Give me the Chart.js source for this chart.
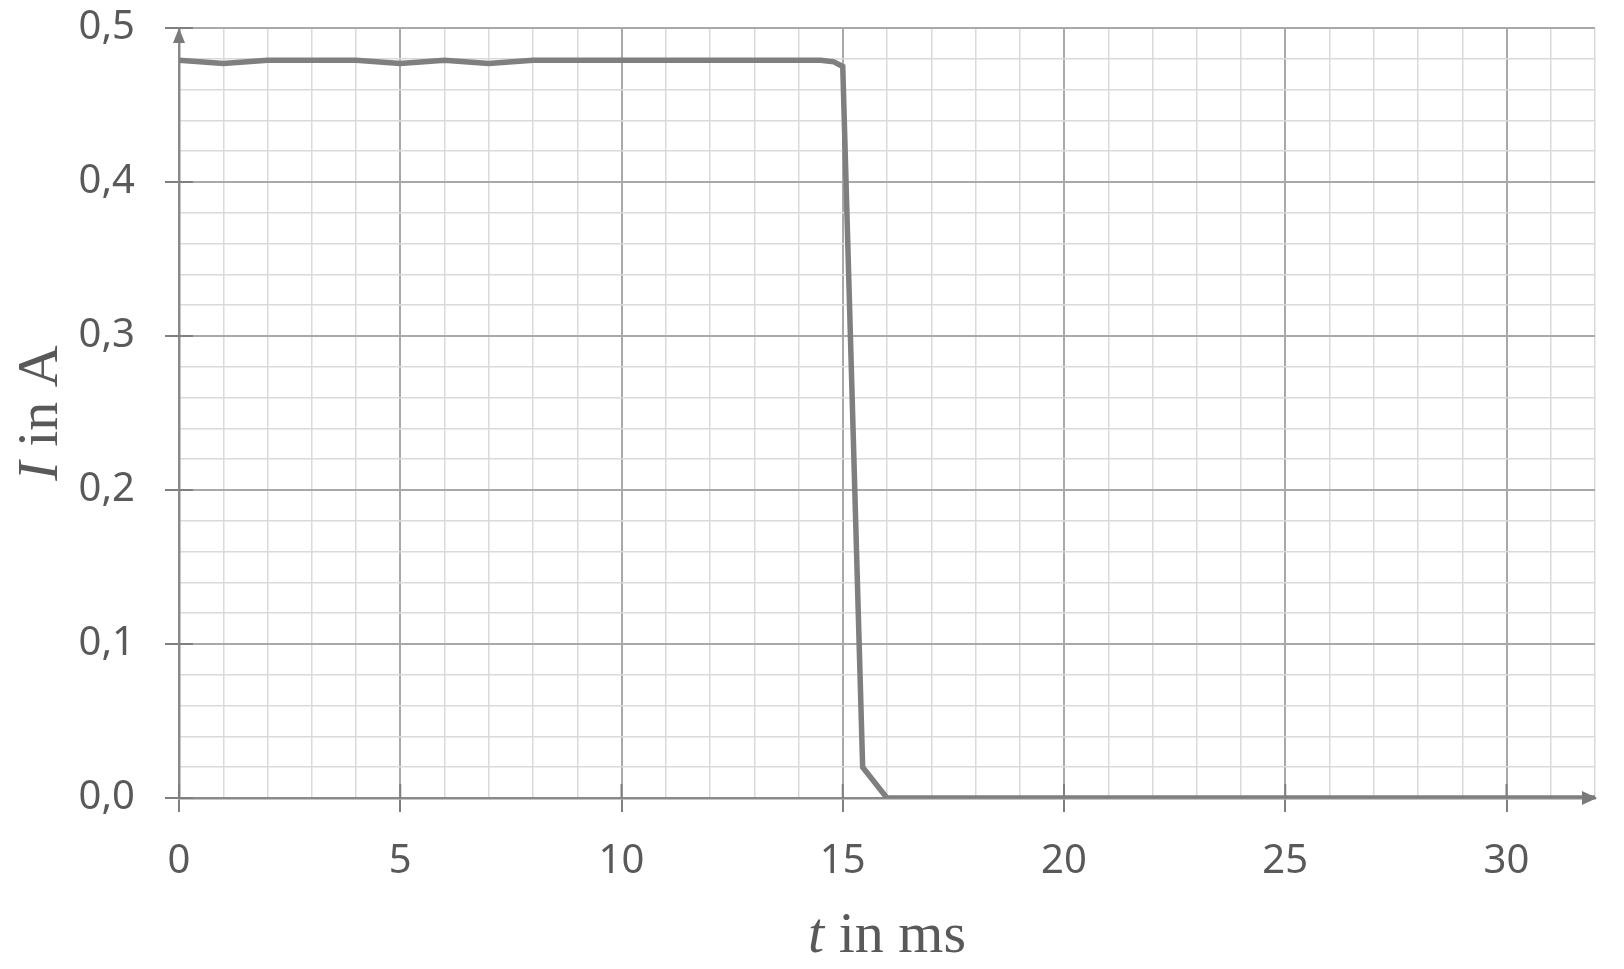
<!DOCTYPE html>
<html>
<head>
<meta charset="utf-8">
<script src="https://cdn.jsdelivr.net/npm/chart.js@4/dist/chart.umd.min.js"></script>
<style>
  html, body { margin: 0; padding: 0; background: #fff; }
  #wrap { width: 1624px; height: 969px; position: relative; }
</style>
</head>
<body>
<div id="wrap"><canvas id="chart"></canvas></div>
<script>
// measured current after switching off (t in ms, I in A)
const timeMs = [0, 1, 2, 3, 4, 5, 6, 7, 8, 9, 10, 11, 12, 13, 14, 14.5, 14.8, 15, 15.45, 16, 20, 24, 28, 32];
const currentA = [0.479, 0.477, 0.479, 0.479, 0.479, 0.477, 0.479, 0.477, 0.479, 0.479, 0.479, 0.479, 0.479, 0.479, 0.479, 0.479, 0.478, 0.475, 0.02, 0, 0, 0, 0, 0];

const xMax = 32;
const yMax = 0.5;

const labelColor = "#595959";
const lineColor = "#7f7f7f";
const majorGrid = "#a9a9a9";
const minorGrid = "#dadada";
const axisColor = "#8a8a8a";

var points = [];
for (let i in timeMs) {
    points.push({ x: timeMs[i], y: currentA[i] });
}

function isMajorY(v) {
    return Math.abs(v * 10 - Math.round(v * 10)) < 1e-6;
}
function isMajorX(v) {
    return v % 5 === 0;
}

// axis titles with italic symbol, arrows, ticks crossing the axes
const axisDecor = {
    id: "axisDecor",
    afterDatasetsDraw(chart) {
        const ctx = chart.ctx;
        const xs = chart.scales.x;
        const ys = chart.scales.y;
        const left = xs.getPixelForValue(0);
        const bottom = ys.getPixelForValue(0);
        const top = ys.getPixelForValue(yMax);
        const right = xs.getPixelForValue(xMax);

        ctx.save();
        // ticks inside the plot
        ctx.strokeStyle = "#7f7f7f";
        ctx.lineWidth = 2;
        ys.ticks.forEach((t) => {
            if (!isMajorY(t.value)) return;
            const y = ys.getPixelForValue(t.value);
            ctx.beginPath();
            ctx.moveTo(left, y);
            ctx.lineTo(left + 14, y);
            ctx.stroke();
        });
        xs.ticks.forEach((t) => {
            if (!isMajorX(t.value)) return;
            const x = xs.getPixelForValue(t.value);
            ctx.beginPath();
            ctx.moveTo(x, bottom);
            ctx.lineTo(x, bottom - 14);
            ctx.stroke();
        });

        // arrow heads
        ctx.fillStyle = "#7a7a7a";
        ctx.beginPath();
        ctx.moveTo(left, top);
        ctx.lineTo(left - 6, top + 15);
        ctx.lineTo(left + 6, top + 15);
        ctx.closePath();
        ctx.fill();
        ctx.beginPath();
        ctx.moveTo(right + 2, bottom);
        ctx.lineTo(right - 13, bottom - 7);
        ctx.lineTo(right - 13, bottom + 7);
        ctx.closePath();
        ctx.fill();

        // axis titles
        ctx.fillStyle = labelColor;
        ctx.textBaseline = "alphabetic";
        ctx.textAlign = "left";
        const italic = "italic 58px 'Liberation Serif'";
        const upright = "58px 'Liberation Serif'";

        ctx.font = italic;
        const wT = ctx.measureText("t").width;
        ctx.font = upright;
        const wRest = ctx.measureText(" in ms").width;
        let x0 = (left + right) / 2 - (wT + wRest) / 2;
        ctx.font = italic;
        ctx.fillText("t", x0, 952);
        ctx.font = upright;
        ctx.fillText(" in ms", x0 + wT, 952);

        ctx.translate(57, (top + bottom) / 2);
        ctx.rotate(-Math.PI / 2);
        ctx.font = italic;
        const wI = ctx.measureText("I").width;
        ctx.font = upright;
        const wA = ctx.measureText(" in A").width;
        x0 = -(wI + wA) / 2;
        ctx.font = italic;
        ctx.fillText("I", x0, 0);
        ctx.font = upright;
        ctx.fillText(" in A", x0 + wI, 0);
        ctx.restore();
    }
};

const elem = document.getElementById("chart").getContext("2d");

const chart = new Chart(elem, {
    type: "line",
    data: {
        datasets: [{
            data: points,
            borderColor: lineColor,
            borderWidth: 5.5,
            pointRadius: 0,
            tension: 0,
            fill: false
        }]
    },
    options: {
        responsive: true,
        maintainAspectRatio: false,
        animation: false,
        layout: { padding: { top: 28, right: 29, left: 0, bottom: 0 } },
        plugins: {
            legend: { display: false },
            tooltip: { enabled: false }
        },
        scales: {
            x: {
                type: "linear",
                min: 0,
                max: xMax,
                afterFit: (scale) => {
                    scale.height = 171;
                    scale.paddingLeft = 0;
                    scale.paddingRight = 0;
                },
                border: { color: axisColor, width: 2.5 },
                grid: {
                    color: (c) => isMajorX(c.tick.value) ? majorGrid : minorGrid,
                    lineWidth: (c) => isMajorX(c.tick.value) ? 2 : 1.5,
                    tickColor: (c) => isMajorX(c.tick.value) ? "#7f7f7f" : "rgba(0,0,0,0)",
                    tickWidth: 2,
                    tickLength: 14
                },
                ticks: {
                    stepSize: 1,
                    autoSkip: false,
                    maxRotation: 0,
                    padding: 26,
                    color: labelColor,
                    font: { family: "'Noto Sans'", size: 40 },
                    callback: (v) => isMajorX(v) ? String(v) : ""
                }
            },
            y: {
                min: 0,
                max: yMax,
                afterFit: (scale) => {
                    scale.width = 179;
                    scale.paddingTop = 0;
                    scale.paddingBottom = 0;
                },
                border: { color: axisColor, width: 2.5 },
                grid: {
                    color: (c) => isMajorY(c.tick.value) ? majorGrid : minorGrid,
                    lineWidth: (c) => isMajorY(c.tick.value) ? 2 : 1.5,
                    tickColor: (c) => isMajorY(c.tick.value) ? "#7f7f7f" : "rgba(0,0,0,0)",
                    tickWidth: 2,
                    tickLength: 14
                },
                ticks: {
                    stepSize: 0.02,
                    autoSkip: false,
                    padding: 30,
                    color: labelColor,
                    font: { family: "'Noto Sans'", size: 40 },
                    callback: (v) => isMajorY(v) ? v.toFixed(1).replace(".", ",") : ""
                }
            }
        }
    },
    plugins: [axisDecor]
});
</script>
</body>
</html>
